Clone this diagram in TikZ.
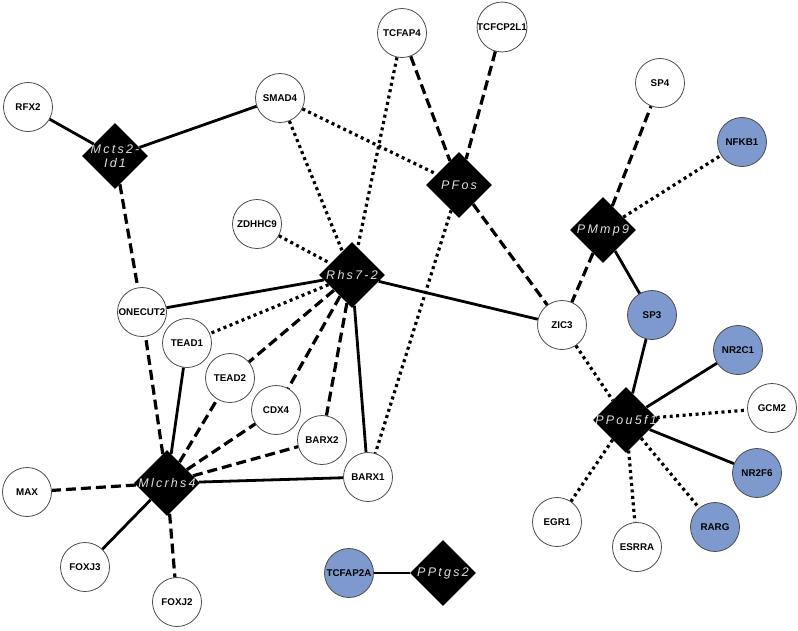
\documentclass[tikz,border=0pt]{standalone}
\usepackage{fontspec}
\setmainfont{Liberation Sans}
\newfontfamily\dfont[LetterSpace=18]{Liberation Sans}
\usetikzlibrary{shapes.geometric}
\definecolor{nodeblue}{RGB}{125,153,205}
\begin{document}
\begin{tikzpicture}[x=1pt,y=-1pt,
  gene/.style={circle,draw=black!70,line width=0.8pt,fill=white,minimum size=49pt,inner sep=0pt,font=\fontsize{9.8}{10}\selectfont\bfseries},
  bgene/.style={gene,fill=nodeblue},
  prom/.style={diamond,fill=black,minimum width=66pt,minimum height=66pt,inner sep=0pt,aspect=1},
  plabel/.style={text=white!88!black,font=\dfont\itshape\fontsize{12.5}{14}\selectfont,align=center,inner sep=0pt},
  se/.style={line width=2.8pt},
  de/.style={line width=3.2pt,dash pattern=on 10pt off 5pt},
  oe/.style={line width=3.2pt,dash pattern=on 3pt off 3.5pt}]
\useasboundingbox (0,0) rectangle (798,630);
% genes
\node[gene] (rfx2) at (28,107) {RFX2};
\node[gene] (smad4) at (280,98) {SMAD4};
\node[gene] (zdhhc9) at (257,224) {ZDHHC9};
\node[gene] (tcfap4) at (402,33) {TCFAP4};
\node[gene] (tcfcp) at (502,27) {TCFCP2L1};
\node[gene] (sp4) at (660,83) {SP4};
\node[bgene] (nfkb1) at (742,142) {NFKB1};
\node[bgene] (sp3) at (652,315) {SP3};
\node[gene] (zic3) at (562,325) {ZIC3};
\node[bgene] (nr2c1) at (738,350) {NR2C1};
\node[gene] (gcm2) at (772,408) {GCM2};
\node[bgene] (nr2f6) at (757,473) {NR2F6};
\node[bgene] (rarg) at (715,527) {RARG};
\node[gene] (esrra) at (637,547) {ESRRA};
\node[gene] (egr1) at (557,522) {EGR1};
\node[bgene] (tcfap2a) at (349,573) {TCFAP2A};
\node[gene] (onecut2) at (142,312) {ONECUT2};
\node[gene] (tead1) at (187,343) {TEAD1};
\node[gene] (tead2) at (230,378) {TEAD2};
\node[gene] (cdx4) at (276,410) {CDX4};
\node[gene] (barx2) at (322,440) {BARX2};
\node[gene] (barx1) at (368,477) {BARX1};
\node[gene] (max) at (27,492) {MAX};
\node[gene] (foxj3) at (85,567) {FOXJ3};
\node[gene] (foxj2) at (177,602) {FOXJ2};
% promoters
\node[prom,label={[plabel]center:Mcts2-\\Id1}] (mcts) at (115,156) {};
\node[prom,label={[plabel]center:PFos}] (pfos) at (459,185) {};
\node[prom,label={[plabel]center:PMmp9}] (pmmp9) at (603,230) {};
\node[prom,label={[plabel]center:Rhs7-2}] (rhs) at (352,275) {};
\node[prom,label={[plabel]center:PPou5f1}] (ppou) at (626,420) {};
\node[prom,label={[plabel]center:Mlcrhs4}] (mlc) at (167,483) {};
\node[prom,label={[plabel]center:PPtgs2}] (pptgs2) at (443,573) {};
% edges
\draw[se] (rfx2) -- (mcts);
\draw[se] (mcts) -- (smad4);
\draw[de] (mcts) -- (onecut2);
\draw[oe] (smad4) -- (pfos);
\draw[oe] (smad4) -- (rhs);
\draw[de] (tcfap4) -- (pfos);
\draw[oe] (tcfap4) -- (rhs);
\draw[de] (tcfcp) -- (pfos);
\draw[de] (pfos) -- (zic3);
\draw[oe] (pfos) -- (barx1);
\draw[oe] (zdhhc9) -- (rhs);
\draw[se] (rhs) -- (onecut2);
\draw[se] (rhs) -- (zic3);
\draw[oe] (rhs) -- (tead1);
\draw[de] (rhs) -- (tead2);
\draw[de] (rhs) -- (cdx4);
\draw[de] (rhs) -- (barx2);
\draw[se] (rhs) -- (barx1);
\draw[de] (mlc) -- (onecut2);
\draw[se] (mlc) -- (tead1);
\draw[de] (mlc) -- (tead2);
\draw[de] (mlc) -- (cdx4);
\draw[de] (mlc) -- (barx2);
\draw[se] (mlc) -- (barx1);
\draw[de] (mlc) -- (max);
\draw[se] (mlc) -- (foxj3);
\draw[de] (mlc) -- (foxj2);
\draw[de] (pmmp9) -- (sp4);
\draw[oe] (pmmp9) -- (nfkb1);
\draw[se] (pmmp9) -- (sp3);
\draw[de] (pmmp9) -- (zic3);
\draw[oe] (zic3) -- (ppou);
\draw[se] (ppou) -- (sp3);
\draw[se] (ppou) -- (nr2c1);
\draw[oe] (ppou) -- (gcm2);
\draw[se] (ppou) -- (nr2f6);
\draw[oe] (ppou) -- (rarg);
\draw[oe] (ppou) -- (esrra);
\draw[oe] (ppou) -- (egr1);
\draw[se] (tcfap2a) -- (pptgs2);
\end{tikzpicture}
\end{document}
